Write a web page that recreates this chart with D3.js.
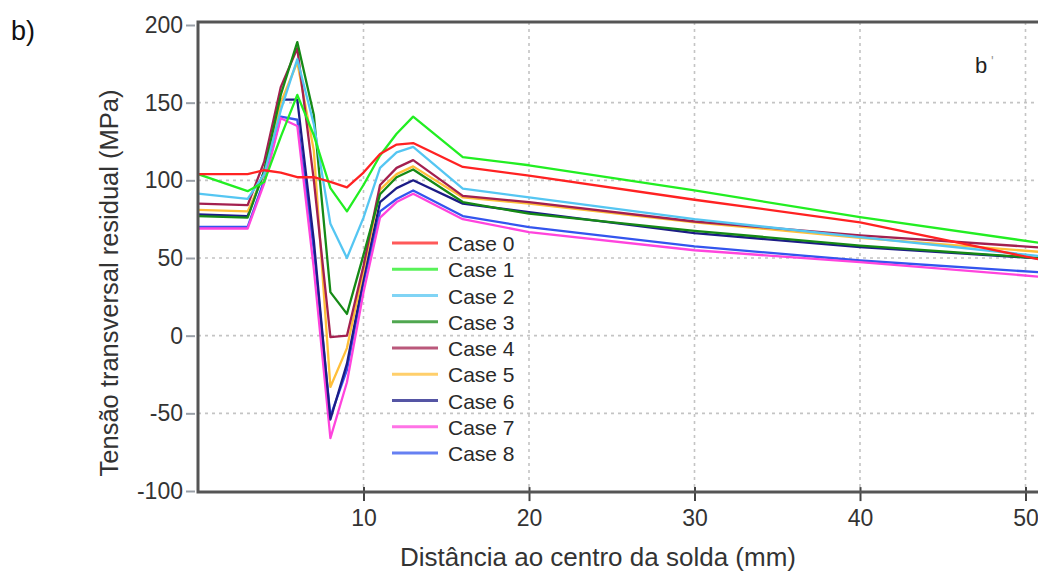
<!DOCTYPE html>
<html>
<head>
<meta charset="utf-8">
<script src="https://cdn.jsdelivr.net/npm/d3@7"></script>
<style>
  html, body { margin: 0; padding: 0; background: #fff; }
  svg { display: block; font-family: "Liberation Sans", Arial, sans-serif; }
</style>
</head>
<body>
<svg width="1038" height="574"></svg>
<script>
// distance from weld centre (mm) at which every case is sampled
const xs = [0, 3, 4, 5, 6, 7, 8, 9, 10, 11, 12, 13, 16, 20, 30, 40, 52];

const case0 = [104, 104, 106.5, 105, 102, 102, 99, 95.5, 105, 117, 123, 124, 108.6, 103, 87.5, 73, 46.5];
const case1 = [104, 93, 99, 128, 155, 129, 95, 80, 97, 116, 130, 141, 115, 109.7, 93.5, 76.3, 58];
const case2 = [91.5, 88, 104, 145, 178, 136, 72, 50, 76, 108, 118, 121.5, 94.6, 89, 75, 63.4, 50];
const case3 = [77, 76, 106, 155, 189, 142, 28, 14, 52, 91, 102, 107, 86, 78.5, 67.5, 58, 49];
const case4 = [85, 84, 112, 160, 185, 100, -1, 0, 45, 97, 108, 113, 90, 86, 73.5, 64.5, 56];
const case5 = [81, 80, 104, 150, 176, 119, -33, -8, 42, 94, 104, 109, 89, 85, 73, 63, 53];
const case6 = [78, 77, 106, 152, 152, 61, -54, -18, 37, 86, 95, 100, 85, 79.5, 66, 57, 49];
const case7 = [69, 69, 98, 140, 135, 43, -66, -30, 28, 76, 86, 91.4, 75, 66.7, 55, 47.3, 37];
const case8 = [70, 70, 100, 141, 139, 55, -52, -22, 34, 80, 88, 93.5, 77, 69.9, 57.5, 48.4, 40];

const caseNames = ["Case 0", "Case 1", "Case 2", "Case 3", "Case 4", "Case 5", "Case 6", "Case 7", "Case 8"];
const caseValues = [case0, case1, case2, case3, case4, case5, case6, case7, case8];
const caseColors = ["#ff2222", "#22ee22", "#55c6f2", "#168a16", "#a3204f", "#ffbf3a", "#1c1c86", "#ff44dd", "#3355ee"];

const yTicks = [-100, -50, 0, 50, 100, 150, 200];
const xTicks = [10, 20, 30, 40, 50];

const svg = d3.select("svg");
svg.append("rect").attr("width", 1038).attr("height", 574).attr("fill", "#fff");

// scales (plot continues past the right edge of the picture)
const x = d3.scaleLinear().domain([0, 60]).range([198, 198 + 60 * 16.55]);
const y = d3.scaleLinear().domain([-100, 200]).range([491, 25]);

const plotLeft = x(0), plotRight = x(60);
const plotTop = y(202), plotBottom = y(-100.7);

// dotted grid
svg.append("g")
  .selectAll("line")
  .data(yTicks.filter(d => d > -100 && d < 200))
  .join("line")
  .attr("x1", plotLeft).attr("x2", plotRight)
  .attr("y1", d => y(d)).attr("y2", d => y(d))
  .attr("stroke", "#c4c4c4").attr("stroke-width", 1.6).attr("stroke-dasharray", "3,4");

svg.append("g")
  .selectAll("line")
  .data(xTicks)
  .join("line")
  .attr("x1", d => x(d)).attr("x2", d => x(d))
  .attr("y1", plotTop).attr("y2", plotBottom)
  .attr("stroke", "#c4c4c4").attr("stroke-width", 1.6).attr("stroke-dasharray", "3,4");

// curves
const line = d3.line()
  .x((d, i) => x(xs[i]))
  .y(d => y(d));

svg.append("g")
  .selectAll("path")
  .data(caseValues.map((v, i) => ({ v, i })).reverse())
  .join("path")
  .attr("d", d => line(d.v))
  .attr("fill", "none")
  .attr("stroke", d => caseColors[d.i])
  .attr("stroke-width", 2.3)
  .attr("stroke-linejoin", "round");

// axes
const yAxis = svg.append("g")
  .attr("transform", `translate(${plotLeft - 3},0)`)
  .call(d3.axisLeft(y).tickValues(yTicks).tickFormat(d => String(d)).tickSize(9).tickPadding(3));
yAxis.select(".domain").remove();
yAxis.selectAll(".tick line").attr("stroke", "#9aa0a8").attr("stroke-width", 2);
yAxis.selectAll(".tick text")
  .attr("font-size", 23)
  .attr("font-family", "Liberation Sans, Arial, sans-serif")
  .attr("fill", "#333");

const xAxis = svg.append("g")
  .attr("transform", `translate(0,${plotBottom})`)
  .call(d3.axisBottom(x).tickValues(xTicks).tickFormat(d => String(d)).tickSizeInner(9).tickSizeOuter(0).tickPadding(9));
xAxis.select(".domain").remove();
xAxis.selectAll(".tick line").attr("stroke", "#444").attr("stroke-width", 2).attr("y1", -5);
xAxis.selectAll(".tick text")
  .attr("font-size", 23)
  .attr("font-family", "Liberation Sans, Arial, sans-serif")
  .attr("fill", "#333");

// frame
svg.append("path")
  .attr("d", `M${plotRight},${plotTop}H${plotLeft}V${plotBottom}H${plotRight}`)
  .attr("fill", "none")
  .attr("stroke", "#555")
  .attr("stroke-width", 3);

// legend
const legend = svg.append("g")
  .selectAll("g")
  .data(caseNames)
  .join("g")
  .attr("transform", (d, i) => `translate(392,${243 + i * 26.25})`);
legend.append("line")
  .attr("x1", 0).attr("x2", 46)
  .attr("stroke", (d, i) => caseColors[i])
  .attr("stroke-opacity", 0.75)
  .attr("stroke-width", 3);
legend.append("text")
  .attr("x", 56).attr("y", 8)
  .attr("font-size", 21)
  .attr("fill", "#2a2a2a")
  .text(d => d);

// panel marks
svg.append("text").attr("x", 975).attr("y", 73).attr("font-size", 22).attr("fill", "#222").text("b");
svg.append("text").attr("x", 991).attr("y", 66).attr("font-size", 14).attr("fill", "#999").text("'");
svg.append("text").attr("x", 11).attr("y", 40).attr("font-size", 27).attr("fill", "#111").text("b)");

// axis titles
svg.append("text")
  .attr("transform", "translate(118,283) rotate(-90)")
  .attr("text-anchor", "middle")
  .attr("font-size", 25.5)
  .attr("fill", "#333")
  .text("Tensão transversal residual (MPa)");
svg.append("text")
  .attr("x", 598).attr("y", 566)
  .attr("text-anchor", "middle")
  .attr("font-size", 26)
  .attr("fill", "#333")
  .text("Distância ao centro da solda (mm)");
</script>
</body>
</html>
